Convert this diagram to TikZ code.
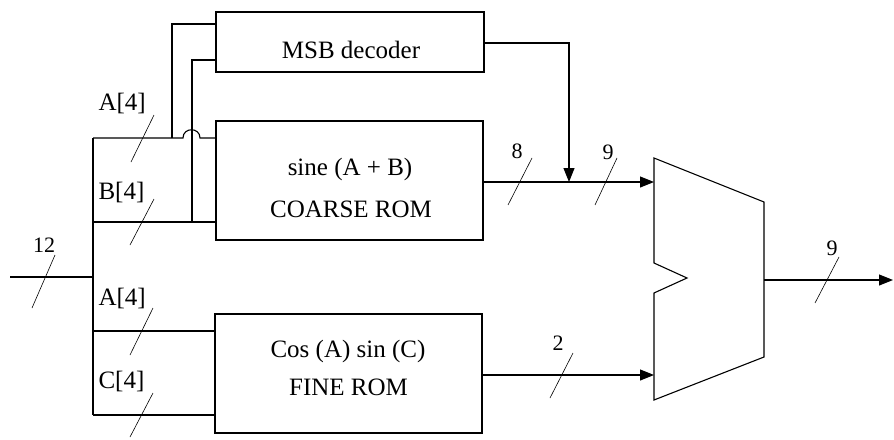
\documentclass[tikz,border=0pt]{standalone}
\usepackage{fontspec}
\setmainfont{Liberation Serif}
\usetikzlibrary{arrows.meta}
\begin{document}
\begin{tikzpicture}[x=1pt,y=-1pt,line width=1.1pt,
  box/.style={draw,rectangle,inner sep=0pt},
  txt/.style={font=\fontsize{25}{28}\selectfont,anchor=base,inner sep=0pt},
  num/.style={font=\fontsize{22}{24}\selectfont,anchor=base,inner sep=0pt},
  lbl/.style={font=\fontsize{25}{28}\selectfont,anchor=base west,inner sep=0pt},
  slash/.style={line width=0.6pt},
  arr/.style={-{Triangle[length=14pt,width=11pt]}}]
\useasboundingbox (0,0) rectangle (894,439);
% blocks
\node[box,minimum width=268pt,minimum height=60pt] (msb) at (350,42) {};
\node[box,minimum width=267pt,minimum height=119pt] (coarse) at (349.5,180.5) {};
\node[box,minimum width=267pt,minimum height=119pt] (fine) at (348.5,373.5) {};
\node[txt] (tmsb) at (351,58) {MSB decoder};
\node[txt] (tc1) at (350,175) {sine (A + B)};
\node[txt] (tc2) at (351,217) {COARSE ROM};
\node[txt] (tf1) at (348,357) {Cos (A) sin (C)};
\node[txt] (tf2) at (348.5,395) {FINE ROM};
% multiplexer / adder shape
\draw (654,158) -- (764,202) -- (764,357) -- (654,400) -- (654,293) -- (687,278) -- (654,263) -- cycle;
% coordinates
\coordinate (inp) at (10,277);
\coordinate (j12) at (93,277);
\coordinate (ja) at (93,138);
\coordinate (jb) at (93,222);
\coordinate (jc) at (93,331);
\coordinate (jd) at (93,415);
\coordinate (ta) at (172,24);
\coordinate (tb) at (192,60);
\coordinate (mo) at (569,43);
\coordinate (in1) at (654,182);
\coordinate (in2) at (654,375);
\coordinate (mout) at (764,280);
\coordinate (oend) at (893,280);
% left wiring
\draw (inp) -- (j12);
\draw (ja) -- (jd);
\draw (ja) -- (183,138) .. controls (183,127) and (200,127) .. (200,138) -- (ja -| coarse.west);
\draw (ja -| ta) -- (ta) -- (ta -| msb.west);
\draw (jb) -- (jb -| coarse.west);
\draw (jb -| tb) -- (tb) -- (tb -| msb.west);
\draw (jc) -- (jc -| fine.west);
\draw (jd) -- (jd -| fine.west);
% right wiring
\draw[arr] (msb.east |- mo) -- (mo) -- (mo |- in1);
\draw[arr] (coarse.east |- in1) -- (in1);
\draw[arr] (fine.east |- in2) -- (in2);
\draw[arr] (mout) -- (oend);
% bus width labels
\node[lbl] (la) at (98,110) {A[4]};
\node[lbl] (lb) at (98,199) {B[4]};
\node[lbl] (lc) at (98,305) {A[4]};
\node[lbl] (ld) at (98,388) {C[4]};
\node[num] (n12) at (44,252) {12};
\node[num] (n8) at (517,158) {8};
\node[num] (n9a) at (608,159) {9};
\node[num] (n2) at (558,350) {2};
\node[num] (n9b) at (832,255) {9};
% slashes
\draw[slash] (131,162) -- (154,115);
\draw[slash] (130,245) -- (154,199);
\draw[slash] (32,308) -- (55,255);
\draw[slash] (130,355) -- (153,308);
\draw[slash] (130,437) -- (153,393);
\draw[slash] (508,205) -- (532,158);
\draw[slash] (595,205) -- (617,158);
\draw[slash] (550,398) -- (573,353);
\draw[slash] (815,303) -- (839,257);
\end{tikzpicture}
\end{document}
